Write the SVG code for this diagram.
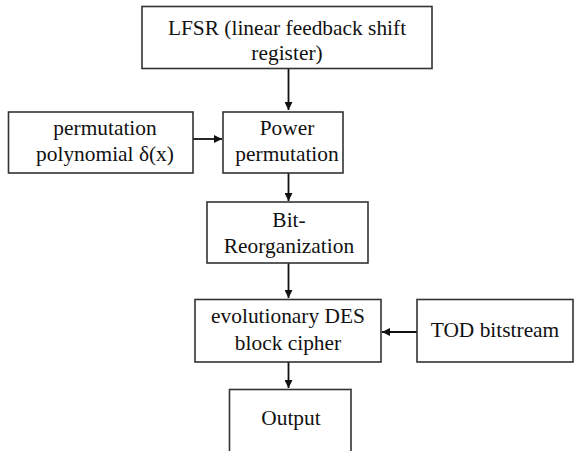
<svg xmlns="http://www.w3.org/2000/svg" width="574" height="451" viewBox="0 0 574 451">
<defs>
<marker id="ah" markerWidth="8" markerHeight="8" refX="8" refY="4" orient="auto" markerUnits="userSpaceOnUse">
<path d="M0,0 L8,4 L0,8 Z" fill="#111"/>
</marker>
<style>
.box{fill:#fff;stroke:#333;stroke-width:1.6}
.c{stroke:#111;stroke-width:1.8;fill:none;marker-end:url(#ah)}
</style>
</defs>
<rect width="574" height="451" fill="#fff"/>
<g id="connectors">
<line class="c" x1="288.5" y1="69" x2="288.5" y2="110"/>
<line class="c" x1="193" y1="139" x2="222" y2="139"/>
<line class="c" x1="288.5" y1="173" x2="288.5" y2="201"/>
<line class="c" x1="288.5" y1="263" x2="288.5" y2="298"/>
<line class="c" x1="417" y1="332" x2="382" y2="332"/>
<line class="c" x1="288.5" y1="362" x2="288.5" y2="388"/>
</g>
<g id="lfsr" font-family="Liberation Serif, Times New Roman, serif" font-size="21.4" fill="#111" text-anchor="middle">
<rect class="box" x="142" y="6.5" width="290" height="62"/>
<text x="287" y="35">LFSR (linear feedback shift</text>
<text x="287" y="60">register)</text>
</g>
<g id="polynomial" font-family="Liberation Serif, Times New Roman, serif" font-size="21.4" fill="#111" text-anchor="middle">
<rect class="box" x="8.5" y="112" width="184.5" height="61"/>
<text x="105" y="135">permutation</text>
<text x="105" y="161">polynomial δ(x)</text>
</g>
<g id="power" font-family="Liberation Serif, Times New Roman, serif" font-size="21.4" fill="#111" text-anchor="middle">
<rect class="box" x="223" y="112" width="120" height="61"/>
<text x="287" y="135">Power</text>
<text x="287" y="161">permutation</text>
</g>
<g id="bitreorg" font-family="Liberation Serif, Times New Roman, serif" font-size="21.4" fill="#111" text-anchor="middle">
<rect class="box" x="207" y="202" width="161" height="61"/>
<text x="289" y="227">Bit-</text>
<text x="289" y="253">Reorganization</text>
</g>
<g id="des" font-family="Liberation Serif, Times New Roman, serif" font-size="21.4" fill="#111" text-anchor="middle">
<rect class="box" x="195" y="299.5" width="186" height="62.5"/>
<text x="288" y="323">evolutionary DES</text>
<text x="288" y="350">block cipher</text>
</g>
<g id="tod" font-family="Liberation Serif, Times New Roman, serif" font-size="21.4" fill="#111" text-anchor="middle">
<rect class="box" x="417" y="299.5" width="156" height="62.5"/>
<text x="495" y="337">TOD bitstream</text>
</g>
<g id="output" font-family="Liberation Serif, Times New Roman, serif" font-size="21.4" fill="#111" text-anchor="middle">
<rect class="box" x="229.5" y="389.5" width="121.5" height="80"/>
<text x="291" y="425">Output</text>
</g>
</svg>
